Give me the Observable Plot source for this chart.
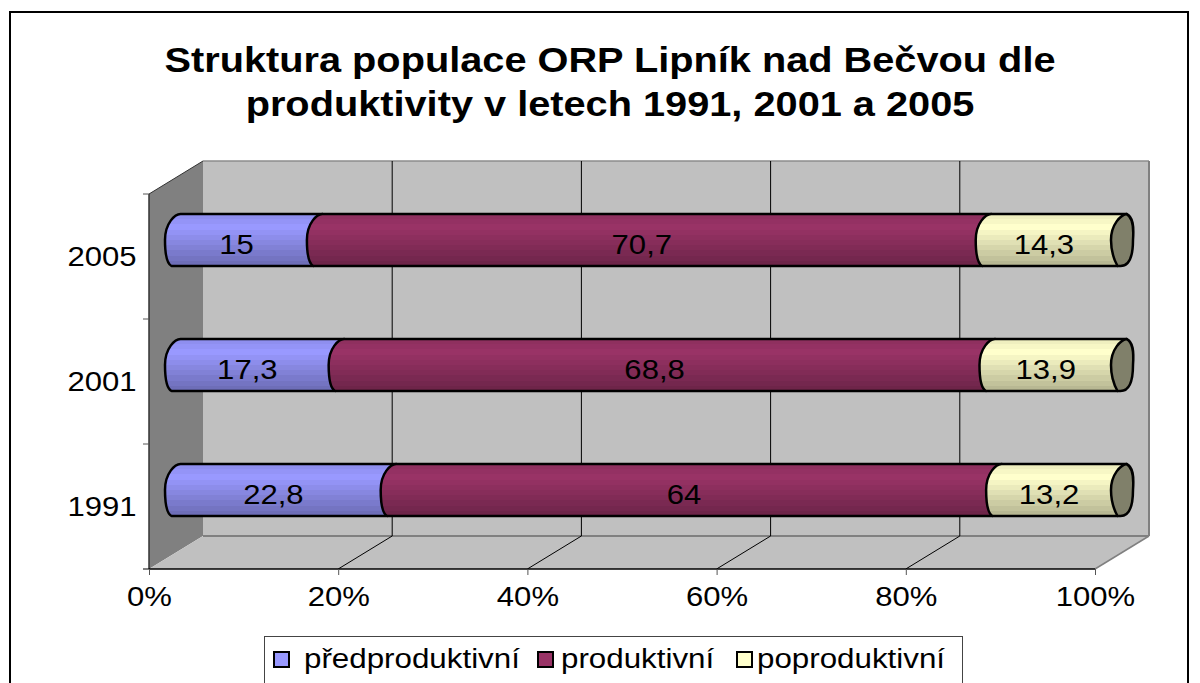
<!DOCTYPE html>
<html><head><meta charset="utf-8">
<script src="https://cdn.jsdelivr.net/npm/d3@7"></script>
<script src="https://cdn.jsdelivr.net/npm/@observablehq/plot@0.6"></script>
<style>
html,body{margin:0;padding:0;background:#fff;overflow:hidden;height:683px;font-family:"Liberation Sans",Arial,sans-serif;color:#000}
#frame{position:absolute;left:9px;top:11px;width:1180px;height:680px;border:2.5px solid #000;box-sizing:border-box;pointer-events:none}
#title{position:relative;height:150px;width:1200px;overflow:hidden}
#title div{position:absolute;left:10px;width:1200px;text-align:center;font-weight:bold;font-size:35px;line-height:40px;transform:scaleX(1.135);transform-origin:center top;white-space:nowrap}
#chart{position:relative;height:470px}
#chart svg{display:block}
#legend{position:absolute;left:264px;top:636px;width:699px;height:50px;border:1.5px solid #444;box-sizing:border-box;background:#fff}
#legend .sw{position:absolute;top:14px;width:17px;height:17px;box-sizing:border-box;border:2.5px solid #000}
#legend .lb{position:absolute;top:7px;font-size:27px;line-height:30px;transform:scaleX(1.16);transform-origin:0 0;white-space:nowrap}
</style></head><body>
<div id="frame"></div>
<div id="title"><div style="top:40px">Struktura populace ORP Lipník nad Bečvou dle</div><div style="top:84px">produktivity v letech 1991, 2001 a 2005</div></div>
<div id="chart"></div>
<div id="legend"></div>
<script>
const years = ["2005", "2001", "1991"];
const seriesNames = ["předproduktivní", "produktivní", "poproduktivní"];
const seriesColors = ["#9999FF", "#993366", "#FFFFCC"];
const predproduktivni = [15, 17.3, 22.8];
const produktivni = [70.7, 68.8, 64];
const poproduktivni = [14.3, 13.9, 13.2];
const axisTicks = [0, 20, 40, 60, 80, 100];
const innerTicks = [20, 40, 60, 80];

const table = years.flatMap((year, i) => [
  {year, series: seriesNames[0], value: predproduktivni[i]},
  {year, series: seriesNames[1], value: produktivni[i]},
  {year, series: seriesNames[2], value: poproduktivni[i]}
]);

const DX = 54, DY = -33, BAR_H = 52;

function gradId(c){ return "cyl" + c.replace(/[^a-zA-Z0-9]/g, ""); }

function walls(index, {x, y}) {
  const g = d3.create("svg:g");
  const x0 = x(0), x1 = x(100);
  const yTop = y(years[0]), yBot = y(years[2]) + y.bandwidth();
  const poly = (pts, fill) => g.append("polygon").attr("points", pts.map(p => p.join(",")).join(" ")).attr("fill", fill).attr("stroke", "none");
  poly([[x0 + DX, yTop + DY], [x1 + DX, yTop + DY], [x1 + DX, yBot + DY], [x0 + DX, yBot + DY]], "#C0C0C0");
  poly([[x0, yTop], [x0 + DX, yTop + DY], [x0 + DX, yBot + DY], [x0, yBot]], "#808080");
  poly([[x0, yBot], [x1, yBot], [x1 + DX, yBot + DY], [x0 + DX, yBot + DY]], "#C0C0C0");
  const line = (a, b, c, w) => g.append("line").attr("x1", a[0]).attr("y1", a[1]).attr("x2", b[0]).attr("y2", b[1]).attr("stroke", c).attr("stroke-width", w);
  line([x0 + DX, yTop + DY], [x1 + DX, yTop + DY], "#8c8c8c", 1.5);
  line([x1 + DX, yTop + DY], [x1 + DX, yBot + DY], "#808080", 2);
  line([x0 + DX, yBot + DY], [x1 + DX, yBot + DY], "#808080", 2);
  line([x1, yBot], [x1 + DX, yBot + DY], "#808080", 1.5);
  line([x0, yTop], [x0 + DX, yTop + DY], "#333", 1);
  innerTicks.forEach(t => {
    line([x(t), yBot], [x(t) + DX, yBot + DY], "#000", 1);
    line([x(t) + DX, yBot + DY], [x(t) + DX, yTop + DY], "#000", 1);
  });
  line([x0, yTop], [x0, yBot], "#333", 1.5);
  line([x0, yBot], [x1, yBot], "#000", 1.5);
  [0, 1, 2].forEach(i => line([x0 - 6, y(years[i])], [x0, y(years[i])], "#555", 1));
  line([x0 - 6, yBot], [x0, yBot], "#000", 1);
  return g.node();
}

function cylinders(index, scales, values) {
  const g = d3.create("svg:g");
  const defs = g.append("defs");
  seriesColors.forEach(c => {
    const gr = defs.append("linearGradient").attr("id", gradId(c)).attr("x1", 0).attr("x2", 0).attr("y1", 0).attr("y2", 1);
    const n = 10;
    for (let k = 0; k < n; k++) {
      const t = (k + .5) / n;
      const f = t < .25 ? .92 + .08 * t / .25 : 1 - .3 * (t - .25) / .75;
      const col = d3.rgb(c);
      const fill = d3.rgb(col.r * f, col.g * f, col.b * f).formatHex();
      gr.append("stop").attr("offset", k / n).attr("stop-color", fill);
      gr.append("stop").attr("offset", (k + 1) / n).attr("stop-color", fill);
    }
  });
  const bw = scales.y.bandwidth();
  const S = 4.5, R = 11;
  const outerBand = (bw - BAR_H) / 2;
  for (const i of index) {
    const a = values.x1[i] + DX / 2, b = values.x2[i] + DX / 2;
    const top = values.y[i] + outerBand + DY / 2, bot = top + BAR_H, mid = (top + bot) / 2;
    const left = `C${a - S * .2},${top} ${a - R},${top + 9} ${a - R},${mid} C${a - R},${bot - 8} ${a - S - 4},${bot - 2} ${a - S},${bot}`;
    g.append("path")
      .attr("d", `M${a + S},${top} ${left} L${b - S},${bot} L${b + S},${top} Z`)
      .attr("fill", `url(#${gradId(values.fill[i])})`)
      .attr("stroke", "#000").attr("stroke-width", 2.5).attr("stroke-linejoin", "round");
    if (values.x2[i] >= scales.x(100) - .5) {
      g.append("path")
        .attr("d", `M${b + S},${top} C${b + R},${top + 3} ${b + R + 1},${top + 12} ${b + R},${mid} C${b + R},${bot - 8} ${b + R - 4},${bot} ${b - S + 3},${bot} L${b - S},${bot} C${b - R + 2},${bot - 8} ${b - R},${bot - 16} ${b - R},${mid} C${b - R},${top + 10} ${b - 1},${top + 1} ${b + S},${top} Z`)
        .attr("fill", "#80806A").attr("stroke", "#000").attr("stroke-width", 2.5).attr("stroke-linejoin", "round");
    }
  }
  return g.node();
}

const chart = Plot.plot({
  width: 1200, height: 470,
  marginTop: 44, marginBottom: 51, marginLeft: 149, marginRight: 105,
  style: {fontFamily: '"Liberation Sans", Arial, sans-serif', color: "#000", background: "transparent", overflow: "visible"},
  x: {domain: [0, 100]},
  y: {domain: years, padding: 0},
  color: {domain: seriesNames, range: seriesColors},
  marks: [
    walls,
    Plot.axisX({ticks: axisTicks, tickFormat: d => d + "%", tickSize: 6, tickPadding: 11, fontSize: 27, label: null, stroke: "#555"}),
    Plot.axisY({tickSize: 0, tickPadding: 13, fontSize: 27, label: null}),
    Plot.barX(table, Plot.stackX({x: "value", y: "year", fill: "series", render: cylinders})),
    Plot.text(table, Plot.stackX({x: "value", y: "year", text: d => String(d.value).replace(".", ","), fontSize: 27, fill: "#000", dx: 16, dy: -11.5}))
  ]
});
document.getElementById("chart").appendChild(chart);

// The reference is horizontally stretched: widen the glyphs of the plot text.
chart.querySelectorAll("text").forEach(t => {
  const len = t.getComputedTextLength();
  if (len > 0) { t.setAttribute("textLength", len * 1.15); t.setAttribute("lengthAdjust", "spacingAndGlyphs"); }
});

const legend = d3.select("#legend");
const swatchLeft = [8, 272, 471];
const labelLeft = [39, 296, 492];
seriesNames.forEach((n, i) => {
  legend.append("div").attr("class", "sw").style("left", swatchLeft[i] + "px").style("background", seriesColors[i]);
  legend.append("div").attr("class", "lb").style("left", labelLeft[i] + "px").text(n);
});
</script>
</body></html>
